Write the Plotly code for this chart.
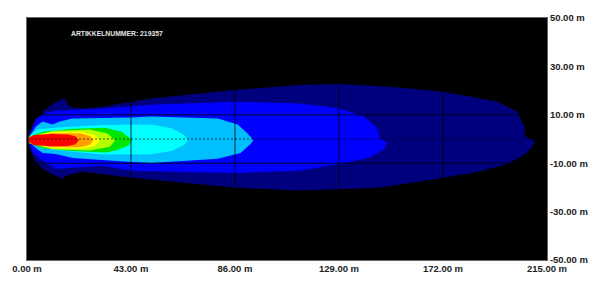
import plotly.graph_objects as go

# ---- data (metres) ----
x_ticks = [0, 43, 86, 129, 172, 215]
y_ticks = [50, 30, 10, -10, -30, -50]
title_text = "ARTIKKELNUMMER: 219357"

# iso-lux contour boundaries, outermost first (polygon x / y)
navy_x = [0.4, 2.5, 6.5, 10.6, 15.4, 17.5, 22.0, 24.1, 31.1, 43.3, 51.5, 86.7, 112.8, 129.2, 150.0, 172.1, 186.4, 194.6, 202.7, 205.6, 206.0, 210.1,
          208.9, 206.0, 198.7, 186.4, 172.1, 145.5, 112.8, 86.7, 43.3, 22.9, 15.9, 14.7, 11.9, 7.8, 3.7, 1.6, 0.4]
navy_y = [0.4, 6.0, 11.3, 14.6, 16.7, 13.3, 12.8, 12.6, 13.3, 15.4, 16.7, 20.3, 22.3, 22.7, 21.6, 19.5, 17.0, 15.4, 11.3, 5.2, 1.1, -0.9,
          -3.4, -6.2, -10.3, -13.5, -16.0, -20.1, -21.3, -20.1, -16.0, -13.5, -15.2, -16.4, -15.2, -13.1, -9.9, -5.0, -0.9]

blue_x = [1.6, 3.7, 8.6, 11.9, 31.1, 51.5, 86.7, 112.8, 129.2, 139.4, 144.7, 145.9, 148.8,
          147.6, 141.4, 129.2, 112.8, 86.7, 43.3, 31.1, 18.8, 11.9, 6.5, 2.5, 0.8]
blue_y = [3.2, 8.5, 10.9, 11.7, 12.5, 14.2, 15.4, 14.7, 12.6, 9.3, 4.5, 0.3, -1.6,
          -4.2, -7.7, -10.3, -13.1, -14.0, -13.1, -11.1, -11.9, -12.3, -9.1, -5.8, -1.5]

lightblue_x = [0.8, 3.7, 6.5, 10.6, 13.5, 18.8, 43.3, 51.5, 78.9, 87.1, 91.2, 93.6,
               92.4, 88.3, 78.9, 51.5, 43.3, 18.8, 11.9, 6.5, 3.7, 0.8]
lightblue_y = [0.7, 5.2, 7.2, 6.0, 7.2, 8.5, 8.9, 9.3, 8.5, 6.0, 2.3, -0.5,
               -2.1, -5.8, -8.2, -9.9, -9.5, -7.8, -6.2, -5.8, -3.8, -0.9]

cyan_x = [1.2, 4.5, 12.7, 31.1, 51.5, 59.7, 64.6, 66.6,
          65.0, 59.7, 51.5, 31.1, 12.7, 4.5, 1.2]
cyan_y = [1.5, 4.0, 4.8, 5.8, 6.0, 4.4, 1.9, -0.1,
          -2.5, -5.0, -6.3, -6.4, -4.6, -2.8, -0.9]

green_x = [0.8, 6.5, 18.8, 32.3, 39.2, 43.3, 42.1, 37.2, 32.3, 18.8, 6.5, 0.8]
green_y = [1.0, 3.0, 4.2, 4.6, 3.0, -0.3, -2.6, -4.6, -5.6, -5.0, -3.8, -1.8]

lime_x = [0.8, 10.6, 25.8, 33.1, 36.4, 34.3, 25.8, 10.6, 0.8]
lime_y = [0.8, 3.3, 3.9, 2.4, -0.5, -3.2, -4.8, -4.2, -1.6]

yellow_x = [0.8, 10.0, 22.0, 28.0, 30.2, 28.0, 22.0, 10.0, 0.8]
yellow_y = [0.7, 2.9, 3.1, 1.8, -0.5, -2.9, -4.0, -3.9, -1.5]

orange_x = [0.8, 10.0, 22.0, 26.0, 27.5, 26.0, 22.0, 10.0, 0.8]
orange_y = [0.6, 2.4, 2.4, 1.2, -0.5, -2.4, -3.4, -3.4, -1.4]

red_x = [0.8, 3.0, 10.0, 17.0, 20.0, 21.5, 20.0, 17.0, 10.0, 3.0, 0.8]
red_y = [0.6, 1.7, 2.1, 1.9, 1.1, -0.5, -2.2, -2.9, -3.0, -2.6, -1.3]

levels = [
    (navy_x, navy_y, "#00007f"),
    (blue_x, blue_y, "#0000ff"),
    (lightblue_x, lightblue_y, "#00bfff"),
    (cyan_x, cyan_y, "#00ffff"),
    (green_x, green_y, "#00e600"),
    (lime_x, lime_y, "#b4ff00"),
    (yellow_x, yellow_y, "#ffff00"),
    (orange_x, orange_y, "#ffa000"),
    (red_x, red_y, "#ff0000"),
]

fig = go.Figure()
for xs, ys, col in levels:
    fig.add_trace(go.Scatter(
        x=xs + [xs[0]], y=ys + [ys[0]], mode="lines", fill="toself",
        fillcolor=col, line=dict(width=0, color=col),
        hoverinfo="skip", showlegend=False))

# grid lines drawn above the filled contours
shapes = []
for xv in x_ticks[1:-1]:
    shapes.append(dict(type="line", xref="x", yref="paper", x0=xv, x1=xv, y0=0, y1=1,
                       line=dict(color="rgba(0,0,0,0.8)", width=1), layer="above"))
for yv in y_ticks[1:-1]:
    shapes.append(dict(type="line", xref="paper", yref="y", x0=0, x1=1, y0=yv, y1=yv,
                       line=dict(color="rgba(0,0,0,0.8)", width=1), layer="above"))
shapes.append(dict(type="line", xref="paper", yref="y", x0=0, x1=1, y0=0, y1=0,
                   line=dict(color="rgba(0,0,0,0.7)", width=1, dash="2px,2px"), layer="above"))

tick_font = dict(family="Liberation Sans, Arial, sans-serif", size=9.5, color="#222222", weight="bold")

fig.update_layout(
    width=600, height=289,
    margin=dict(l=24, r=50, t=15, b=29),
    paper_bgcolor="white", plot_bgcolor="black",
    shapes=shapes,
    xaxis=dict(range=[0, 215], tickvals=x_ticks, ticktext=[f"{v:.2f} m" for v in x_ticks],
               showgrid=False, zeroline=False, showline=True, linecolor="#666666", linewidth=1,
               mirror=True, ticks="", tickfont=tick_font, fixedrange=True),
    yaxis=dict(range=[-50, 50], tickvals=y_ticks, ticktext=[f"{v:.2f} m" for v in y_ticks],
               side="right", showgrid=False, zeroline=False, showline=True, linecolor="#666666",
               linewidth=1, mirror=True, ticks="", tickfont=tick_font, fixedrange=True),
    annotations=[dict(text=title_text, xref="paper", yref="paper", x=0.080, y=0.937,
                      xanchor="left", yanchor="middle", showarrow=False,
                      font=dict(family="Liberation Sans, Arial, sans-serif", size=6.8,
                                color="#e6e6e6", weight="bold"))],
)

fig.write_html("out.html")
